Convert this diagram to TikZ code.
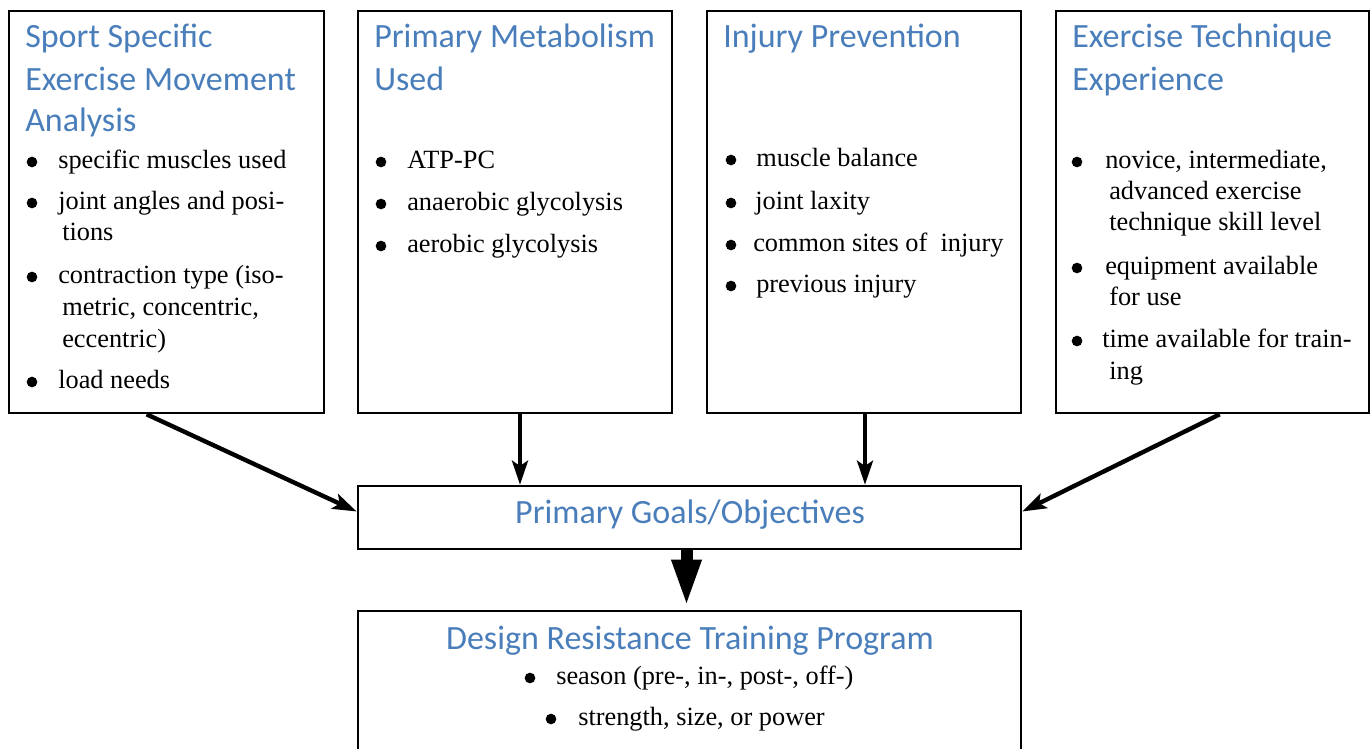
\documentclass[tikz,border=0pt]{standalone}
\usepackage{fontspec}
\setmainfont{Liberation Serif}
\newfontfamily\ttlfont{Carlito}
\usetikzlibrary{arrows.meta,calc}
\definecolor{tblue}{RGB}{74,126,187}
\begin{document}
\begin{tikzpicture}[x=0.75pt,y=-0.75pt,
  box/.style={draw,line width=2pt,rectangle,inner sep=0pt},
  tl/.style={anchor=base west,inner sep=0pt,font=\ttlfont\fontsize{25.5pt}{30pt}\selectfont,text=tblue},
  tc/.style={anchor=base,inner sep=0pt,font=\ttlfont\fontsize{25.5pt}{30pt}\selectfont,text=tblue},
  bl/.style={anchor=base west,inner sep=0pt,font=\fontsize{19.75pt}{23pt}\selectfont},
  bu/.style={circle,fill=black,inner sep=0pt,minimum size=8pt},
  arr/.style={line width=3.3pt,-{Stealth[length=18pt,width=12pt,inset=4pt]}},
  bigarr/.style={line width=9pt,-{Triangle[length=36pt,width=20pt]}}]
\useasboundingbox (0,0) rectangle (1370,749);
\clip (0,0) rectangle (1370,749);
% boxes
\node[box,minimum width=236.25pt,minimum height=301.5pt] (b1) at (166.5,212) {};
\node[box,minimum width=235.5pt,minimum height=301.5pt] (b2) at (515,212) {};
\node[box,minimum width=235.5pt,minimum height=301.5pt] (b3) at (864,212) {};
\node[box,minimum width=234.75pt,minimum height=301.5pt] (b4) at (1212.5,212) {};
\node[box,minimum width=497.25pt,minimum height=47.25pt] (goals) at (689.5,517.5) {};
\node[box,minimum width=497.25pt,minimum height=119.25pt] (design) at (689.5,690.5) {};
% box 1
\node[tl] (t1a) at (25,48) {Sport Specific};
\node[tl] (t1b) at (25,90) {Exercise Movement};
\node[tl] (t1c) at (25,132) {Analysis};
\node[bu] (u1a) at (32,162) {};
\node[bl] (l1a) at (58,168) {specific muscles used};
\node[bu] (u1b) at (32,203) {};
\node[bl] (l1b) at (58,209) {joint angles and posi-};
\node[bl] (l1c) at (62,240) {tions};
\node[bu] (u1c) at (32,277) {};
\node[bl] (l1d) at (58,283) {contraction type (iso-};
\node[bl] (l1e) at (62,315) {metric, concentric,};
\node[bl] (l1f) at (62,347) {eccentric)};
\node[bu] (u1d) at (32,382) {};
\node[bl] (l1g) at (58,388) {load needs};
% box 2
\node[tl] (t2a) at (374,48) {Primary Metabolism};
\node[tl] (t2b) at (374,90) {Used};
\node[bu] (u2a) at (381,162) {};
\node[bl] (l2a) at (407,168) {ATP-PC};
\node[bu] (u2b) at (381,204) {};
\node[bl] (l2b) at (407,210) {anaerobic glycolysis};
\node[bu] (u2c) at (381,246) {};
\node[bl] (l2c) at (407,252) {aerobic glycolysis};
% box 3
\node[tl] (t3a) at (723,48) {Injury Prevention};
\node[bu] (u3a) at (731,160) {};
\node[bl] (l3a) at (756,166) {muscle balance};
\node[bu] (u3b) at (731,203) {};
\node[bl] (l3b) at (755,209) {joint laxity};
\node[bu] (u3c) at (731,245) {};
\node[bl] (l3c) at (753,251) {common sites of\ \ injury};
\node[bu] (u3d) at (731,286) {};
\node[bl] (l3d) at (756,292) {previous injury};
% box 4
\node[tl] (t4a) at (1072,48) {Exercise Technique};
\node[tl] (t4b) at (1072,90) {Experience};
\node[bu] (u4a) at (1077,162) {};
\node[bl] (l4a) at (1105,168) {novice, intermediate,};
\node[bl] (l4b) at (1109,199) {advanced exercise};
\node[bl] (l4c) at (1109,230) {technique skill level};
\node[bu] (u4b) at (1077,268) {};
\node[bl] (l4d) at (1105,274) {equipment available};
\node[bl] (l4e) at (1109,305) {for use};
\node[bu] (u4c) at (1077,341) {};
\node[bl] (l4f) at (1102,347) {time available for train-};
\node[bl] (l4g) at (1109,379) {ing};
% goals and design
\node[tc] (tg) at (690,523) {Primary Goals/Objectives};
\node[tc] (td) at (690,649) {Design Resistance Training Program};
\node[bu] (ud1) at (530,678) {};
\node[bl] (ld1) at (556,684) {season (pre-, in-, post-, off-)};
\node[bu] (ud2) at (551,719) {};
\node[bl] (ld2) at (578,725) {strength, size, or power};
% arrow end points
\coordinate (s1) at ($(b1.south west)+(139,0)$);
\coordinate (e1) at ($(goals.west)+(0,-6)$);
\coordinate (s2) at ($(b2.south)+(5,0)$);
\coordinate (e2) at (s2 |- goals.north);
\coordinate (s3) at ($(b3.south)+(1,0)$);
\coordinate (e3) at (s3 |- goals.north);
\coordinate (s4) at ($(b4.south west)+(165,0)$);
\coordinate (e4) at ($(goals.east)+(0,-6)$);
\coordinate (s5) at ($(goals.south)+(-3,0)$);
\coordinate (e5) at ($(design.north)+(-3,-2)$);
% arrows
\draw[arr] (s1) -- (e1);
\draw[arr,line width=3pt] (s2) -- (e2);
\draw[arr,line width=3pt] (s3) -- (e3);
\draw[arr] (s4) -- (e4);
\draw[bigarr] (s5) -- (e5);
\end{tikzpicture}
\end{document}
